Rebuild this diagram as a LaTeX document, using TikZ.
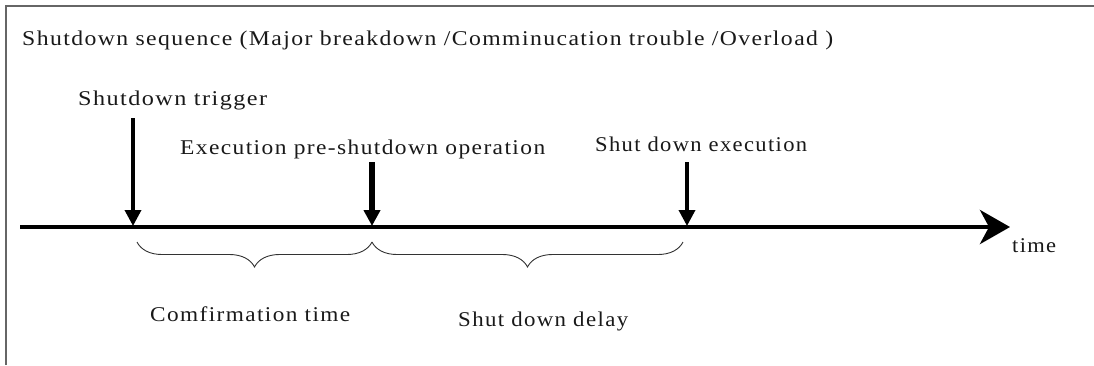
\documentclass[tikz,border=0pt]{standalone}
\usepackage{fontspec}
\usepackage{graphicx}
\setmainfont{Liberation Serif}[LetterSpace=6]
\usetikzlibrary{arrows.meta,decorations.pathreplacing}

% stretch a label to a given width, keeping its height
\newcommand\fitw[2]{\resizebox{#1}{\height}{#2}}

\begin{document}
\begin{tikzpicture}[x=1pt,y=-1pt,
  lbl/.style={anchor=base west,inner sep=0pt,font=\fontsize{21}{25}\selectfont,text=black!90},
  frameline/.style={draw=black!60,line width=1.6pt},
  axisline/.style={line width=4.5pt,-{Stealth[length=30pt,width=34pt,inset=9pt]}},
  event/.style={line width=3.5pt,-{Triangle[length=16pt,width=16pt]}},
  span/.style={draw=black!80,line width=0.9pt,decorate,decoration={brace,mirror,amplitude=25pt}}]

\useasboundingbox (0,0) rectangle (1094,365);
\fill[white] (0,0) rectangle (1094,365);

% open frame: left and top edges
\draw[frameline] (6,365) -- (6,6) -- (1094,6);

% texts
\node[lbl] (title) at (22,45) {\fitw{811pt}{Shutdown sequence (Major breakdown /Comminucation trouble /Overload )}};
\node[lbl] (trig)  at (78,105)  {\fitw{189pt}{Shutdown trigger}};
\node[lbl] (pre)   at (180,154) {\fitw{365pt}{Execution pre-shutdown operation}};
\node[lbl] (exec)  at (595,151) {\fitw{212pt}{Shut down execution}};
\node[lbl] (conf)  at (150,321) {\fitw{200pt}{Comfirmation time}};
\node[lbl] (delay) at (458,326) {\fitw{170pt}{Shut down delay}};
\node[lbl] (time)  at (1012,252) {\fitw{44pt}{time}};

% time axis
\coordinate (a0) at (20,227);
\coordinate (a1) at (1010,227);
\draw[axisline] (a0) -- (a1);

% event points on the axis and the tops of their arrows
\coordinate (e1) at (133,226);
\coordinate (e2) at (372,226);
\coordinate (e3) at (687,226);
\coordinate (s1) at (133,118);
\coordinate (s2) at (372,162);
\coordinate (s3) at (687,162);

\draw[event] (s1) -- (e1);
\draw[event,line width=6pt] (s2) -- (e2);
\draw[event] (s3) -- (e3);

% intervals between the events
\coordinate (b1) at (137,242);
\coordinate (b2) at (372,242);
\coordinate (b3) at (683,242);
\draw[span] (b1) -- (b2);
\draw[span] (b2) -- (b3);

\end{tikzpicture}
\end{document}
